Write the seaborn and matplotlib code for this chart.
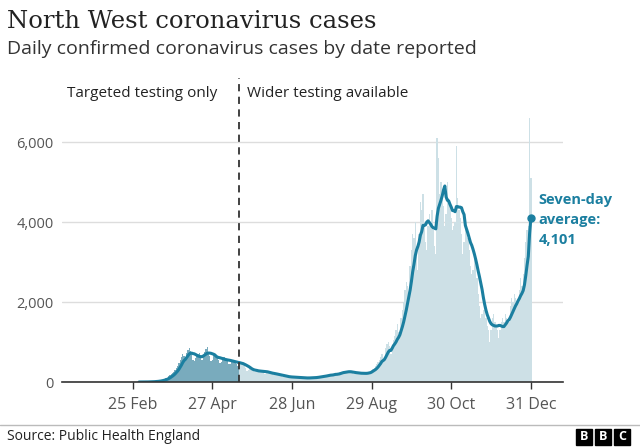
import numpy as np
import pandas as pd
import matplotlib
matplotlib.use("Agg")
import matplotlib.pyplot as plt
import matplotlib.dates as mdates
from matplotlib.patches import Rectangle
from matplotlib.lines import Line2D
import seaborn as sns

# ---- data (daily confirmed cases, North West, by date reported) ----
mar = [0, 0, 1, 1, 2, 3, 3, 5, 6, 8,
       10, 12, 15, 18, 22, 28, 35, 45, 55, 65,
       80, 95, 110, 140, 170, 200, 230, 260, 300, 350, 400]
apr = [480, 560, 620, 700, 640, 560, 720, 800, 850, 780,
       700, 560, 520, 600, 680, 700, 720, 650, 560, 640,
       760, 820, 880, 760, 640, 520, 560, 680, 700, 640]
may = [620, 560, 480, 500, 600, 620, 580, 560, 520, 440,
       460, 540, 560, 520, 500, 460, 400, 420, 480, 500,
       460, 400, 340, 280, 290, 340, 330, 310, 290, 260, 240]
jun = [240, 280, 300, 290, 270, 240, 210, 220, 250, 240,
       230, 210, 190, 170, 180, 200, 190, 170, 160, 140,
       120, 130, 150, 140, 130, 120, 110, 100, 115, 125]
jul = [120, 115, 105, 95, 85, 100, 115, 110, 105, 100,
       90, 95, 110, 120, 125, 120, 115, 110, 130, 145,
       150, 160, 155, 150, 160, 180, 190, 195, 185, 175, 200]
aug = [210, 190, 220, 240, 250, 260, 270, 250, 230, 260,
       270, 260, 250, 230, 210, 200, 220, 240, 230, 220,
       215, 200, 190, 220, 240, 250, 260, 270, 300, 330, 360]
sep = [400, 450, 500, 560, 620, 700, 520, 600, 850, 950,
       1000, 900, 700, 900, 1050, 1150, 1300, 1450, 1250, 1150,
       1600, 1800, 2000, 2300, 2500, 2400, 2200, 2900, 3300, 3700]
oct_ = [3600, 4000, 3400, 2800, 3700, 4500, 4300, 4700, 4000, 3500,
        3300, 3900, 4200, 4000, 4300, 3800, 3400, 3200, 6100, 5600,
        4700, 5000, 4600, 4400, 3900, 4200, 5000, 4600, 4400, 4100, 3800]
nov = [3900, 4000, 5900, 4600, 4300, 4100, 3700, 3200, 3500, 4000,
       3900, 3600, 3300, 2900, 2700, 2800, 3200, 3000, 2600, 2200,
       1900, 1600, 1700, 1800, 1800, 1600, 1400, 1300, 1000, 1300]
dec = [1600, 1700, 1500, 1400, 1300, 1100, 1300, 1500, 1600, 1500,
       1700, 1600, 1500, 1500, 1900, 2100, 2000, 2200, 2100, 1900,
       2000, 2300, 2600, 2400, 2700, 3100, 3500, 3800, 3900, 6600, 5100]

start_date = "2020-03-01"
wider_testing_date = "2020-05-18"
tick_dates = ["2020-02-25", "2020-04-27", "2020-06-28",
              "2020-08-29", "2020-10-30", "2020-12-31"]
tick_labels = ["25 Feb", "27 Apr", "28 Jun", "29 Aug", "30 Oct", "31 Dec"]
y_ticks = [0, 2000, 4000, 6000]
y_labels = ["0", "2,000", "4,000", "6,000"]

cases = mar + apr + may + jun + jul + aug + sep + oct_ + nov + dec
df = pd.DataFrame({"date": pd.date_range(start_date, periods=len(cases)),
                   "cases": cases})
df["avg"] = df["cases"].rolling(7, min_periods=1).mean()
df["x"] = mdates.date2num(df["date"])
df["period"] = np.where(df["date"] < pd.Timestamp(wider_testing_date),
                        "targeted", "wider")

# ---- style ----
sns.set_theme(style="white")
plt.rcParams["font.family"] = ["Open Sans", "DejaVu Sans"]

TEAL = "#1b7fa0"
fig = plt.figure(figsize=(6.4, 4.47), dpi=100)
ax = fig.add_axes([62 / 640, 1 - 382 / 447, (563 - 62) / 640, (382 - 110) / 447])

sns.barplot(data=df, x="x", y="cases", hue="period",
            palette={"targeted": "#6eb0c8", "wider": "#c9e2ea"},
            native_scale=True, dodge=False, width=1.0, errorbar=None,
            legend=False, linewidth=0, ax=ax)
sns.lineplot(data=df, x="x", y="avg", color=TEAL, linewidth=2.2, ax=ax)
ax.plot(df["x"].iloc[-1], df["avg"].iloc[-1], "o", color=TEAL, ms=5, zorder=5)

# axes formatting
ax.set_xlim(mdates.date2num(pd.Timestamp("2020-01-01")),
            mdates.date2num(pd.Timestamp("2021-01-25")))
ax.set_ylim(0, 6800)
ax.set_xticks(mdates.date2num(pd.to_datetime(tick_dates)))
ax.set_xticklabels(tick_labels)
ax.set_yticks(y_ticks)
ax.set_yticklabels(y_labels)
ax.set_xlabel("")
ax.set_ylabel("")
ax.grid(axis="y", color="#dddddd", lw=1)
ax.set_axisbelow(True)
for s in ["top", "right", "left"]:
    ax.spines[s].set_visible(False)
ax.spines["bottom"].set_color("#333333")
ax.spines["bottom"].set_linewidth(1.2)
ax.tick_params(axis="x", length=5, width=1, color="#333333", labelsize=11.5,
               labelcolor="#555555", pad=6, bottom=True)
ax.tick_params(axis="y", length=0, labelsize=10.5, labelcolor="#555555", pad=6)

# dashed line for wider testing
xw = mdates.date2num(pd.Timestamp(wider_testing_date))
ax.plot([xw, xw], [0, 7600], ls=(0, (4, 3)), color="#333333", lw=1.3,
        clip_on=False, zorder=6)
ax.text(xw - 17, 7225, "Targeted testing only", ha="right", va="center",
        fontsize=11, color="#222222")
ax.text(xw + 6, 7225, "Wider testing available", ha="left", va="center",
        fontsize=11, color="#222222")

# seven-day average annotation
ax.text(df["x"].iloc[-1] + 6, 4720, "Seven-day\naverage:\n4,101",
        ha="left", va="top", fontsize=10.5, fontweight="bold", color=TEAL,
        linespacing=1.55)

# titles
fig.text(7 / 640, 1 - 21 / 447, "North West coronavirus cases",
         fontsize=17.5, family=["DejaVu Serif"], color="#222222", va="center")
fig.text(7 / 640, 1 - 49 / 447, "Daily confirmed coronavirus cases by date reported",
         fontsize=14, color="#333333", va="center")

# footer
fig.add_artist(Line2D([0, 1], [1 - 425 / 447] * 2, color="#bbbbbb", lw=1))
fig.text(7 / 640, 1 - 437 / 447, "Source: Public Health England",
         fontsize=10, color="#222222", va="center")
for i, letter in enumerate("BBC"):
    x0 = (576 + i * 19) / 640
    fig.add_artist(Rectangle((x0, 1 - 445 / 447), 16 / 640, 16 / 447,
                             transform=fig.transFigure, color="black"))
    fig.text(x0 + 8 / 640, 1 - 437 / 447, letter, color="white",
             fontsize=9, fontweight="bold", ha="center", va="center")

fig.savefig("out.png", dpi=100)
